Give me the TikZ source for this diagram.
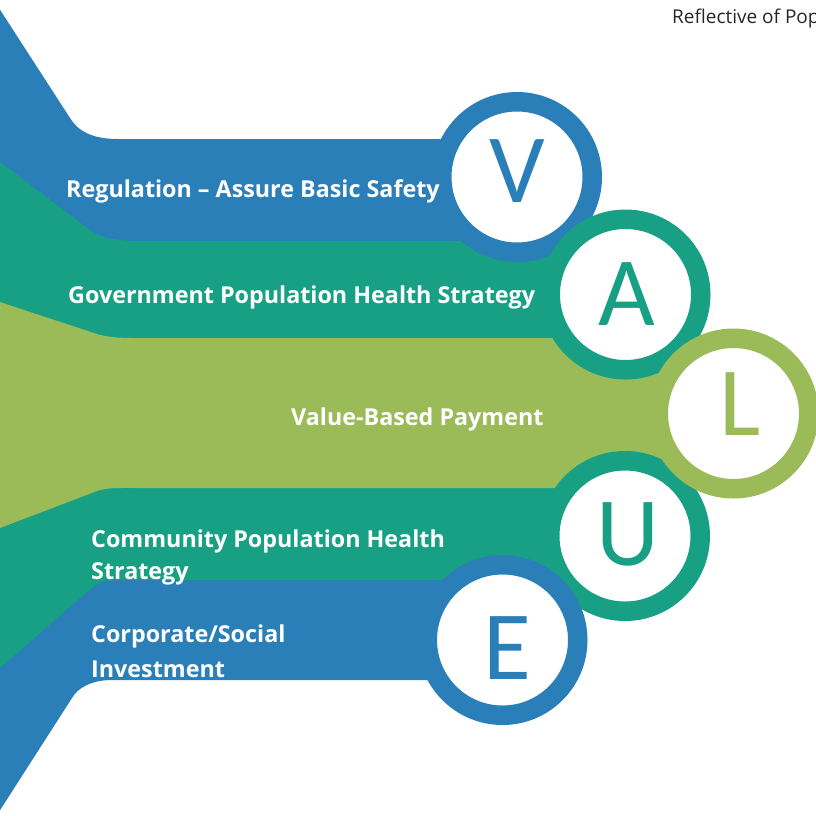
\documentclass[tikz,border=0pt]{standalone}
\usepackage{fontspec}
\setmainfont{Open Sans}
\newfontfamily\letterfont{Carlito}

\definecolor{bandblue}{RGB}{43,127,184}
\definecolor{bandteal}{RGB}{24,160,133}
\definecolor{bandlime}{RGB}{155,187,89}
\definecolor{notegray}{RGB}{38,38,38}

\tikzset{
  ring/.style={circle, draw=#1, fill=white, line width=19.5pt,
    minimum size=150.5pt, inner sep=0pt},
  letter/.style={text=#1, font=\letterfont\fontsize{98}{98}\selectfont,
    inner sep=0pt, anchor=base},
  bandtext/.style={text=white, font=\bfseries\fontsize{23.3}{30}\selectfont,
    inner sep=0pt, anchor=base west},
  note/.style={text=notegray, font=\fontsize{19}{22}\selectfont,
    inner sep=0pt, anchor=base west}
}

\begin{document}
\begin{tikzpicture}[x=1pt,y=-1pt]
\useasboundingbox (0,0) rectangle (816,815);
\clip (0,0) rectangle (816,815);

% Bands: upper two, then lower two, the middle one last so overlaps are hidden
\fill[bandblue] (-5,2) -- (70,118) .. controls (78,131) and (92,139) .. (118,139)
  -- (517,139) -- (517,242.5) -- (140,242.5)
  .. controls (115,242.5) and (100,239) .. (90,231.5) -- (-5,159.5) -- cycle;
\fill[bandteal] (-5,158.2) -- (90,230) .. controls (100,237.5) and (115,241) .. (140,241)
  -- (625.5,241) -- (625.5,339.5) -- (135,339.5)
  .. controls (118,339.5) and (107,338.5) .. (97,335.5) -- (-5,302) -- cycle;
\fill[bandblue] (-5,670.8) -- (88,589.5) .. controls (95,583.5) and (102,578.5) .. (115,578.5)
  -- (502.5,578.5) -- (502.5,680) -- (112,680)
  .. controls (90,680) and (77,689) .. (72,698) -- (-5,818) -- cycle;
\fill[bandteal] (-5,528.4) -- (97,489.5) .. controls (107,486.5) and (118,486.5) .. (135,486.5)
  -- (625,486.5) -- (625,580) -- (115,580)
  .. controls (102,580) and (95,585) .. (88,591) -- (-5,672.3) -- cycle;
\fill[bandlime] (-5,300.4) -- (97,334) .. controls (107,337) and (118,338) .. (135,338)
  -- (733.5,338) -- (733.5,488) -- (135,488)
  .. controls (118,488) and (107,487.5) .. (97,491) -- (-5,529.9) -- cycle;

% Letter rings
\node[ring=bandblue] (vring) at (517,177) {};
\node[ring=bandteal] (aring) at (625.5,294.5) {};
\node[ring=bandteal] (uring) at (625,536) {};
\node[ring=bandblue] (ering) at (502.5,640) {};
\node[ring=bandlime] (lring) at (733.5,413.5) {};

\node[letter=bandblue] (vlet) at (517.5,202) {V};
\node[letter=bandteal] (alet) at (627,325) {A};
\node[letter=bandlime] (llet) at (740.5,435) {L};
\node[letter=bandteal] (ulet) at (628,565) {U};
\node[letter=bandblue] (elet) at (507,679) {E};

% Band captions
\node[bandtext] (reg) at (66,197) {Regulation – Assure Basic Safety};
\node[bandtext] (gov) at (68,303) {Government Population Health Strategy};
\node[bandtext] (vbp) at (291,425) {Value-Based Payment};
\node[bandtext] (comA) at (91,547) {Community Population Health};
\node[bandtext] (comB) at (91,579) {Strategy};
\node[bandtext] (corA) at (91,642) {Corporate/Social};
\node[bandtext] (corB) at (91,677) {Investment};

\node[note] (refl) at (672,23) {Reflective of Pop};
\end{tikzpicture}
\end{document}
